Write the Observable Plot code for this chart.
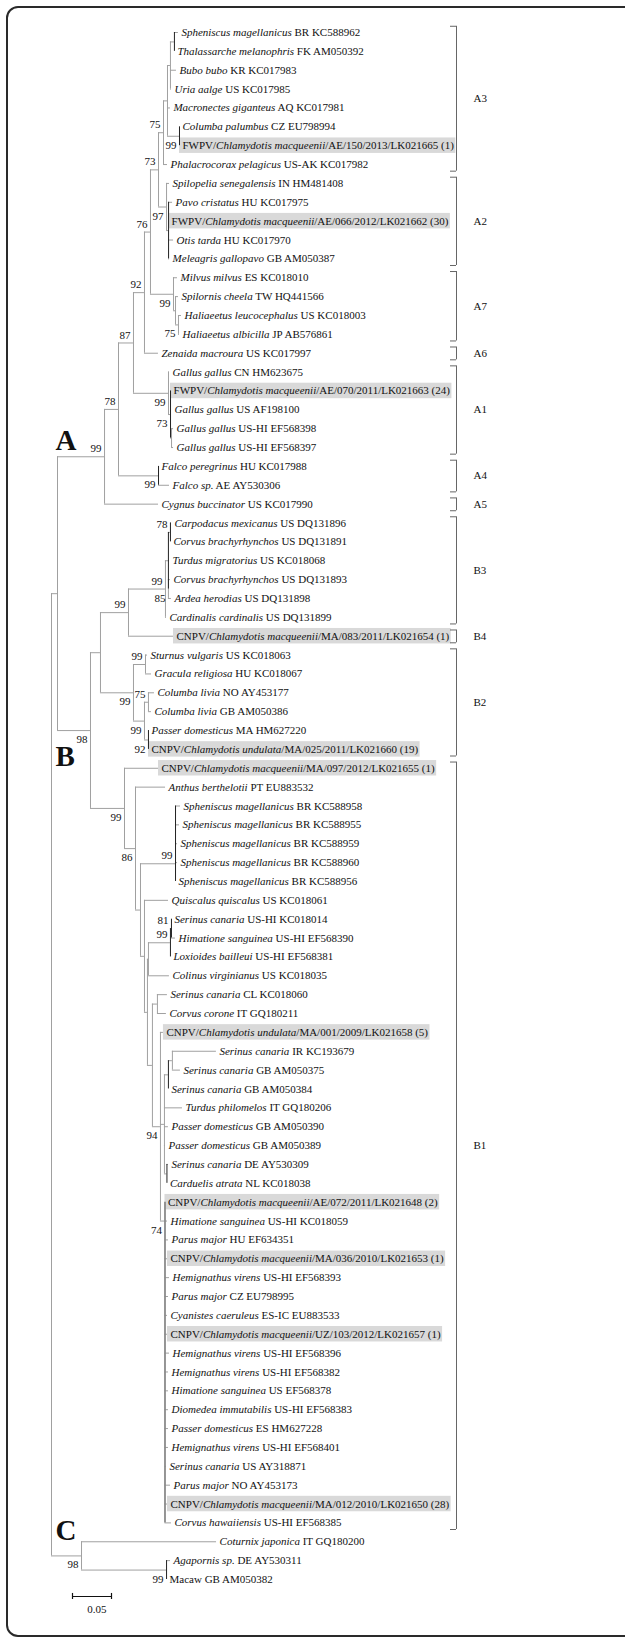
<!DOCTYPE html>
<html><head><meta charset="utf-8">
<script src="https://cdn.jsdelivr.net/npm/d3@7"></script>
<script src="https://cdn.jsdelivr.net/npm/@observablehq/plot@0.6"></script>
<style>
body{margin:0;background:#fff;overflow:hidden;}
#wrap{position:relative;width:625px;height:1638px;overflow:hidden;background:#fff;}
#frame{position:absolute;left:6px;top:6px;width:700px;height:1631px;border:2px solid #2a2a2a;border-radius:12px;box-sizing:border-box;pointer-events:none;}
</style></head><body><div id="wrap"><div id="chart"></div><div id="frame"></div></div>
<script>
// ---------- DATA ----------
// leaf labels: [roman prefix, italic part, roman suffix]
const leafNames = [
["", "Spheniscus magellanicus", " BR KC588962"],
["", "Thalassarche melanophris", " FK AM050392"],
["", "Bubo bubo", " KR KC017983"],
["", "Uria aalge", " US KC017985"],
["", "Macronectes giganteus", " AQ KC017981"],
["", "Columba palumbus", " CZ EU798994"],
["FWPV/", "Chlamydotis macqueenii", "/AE/150/2013/LK021665 (1)"],
["", "Phalacrocorax pelagicus", " US-AK KC017982"],
["", "Spilopelia senegalensis", " IN HM481408"],
["", "Pavo cristatus", " HU KC017975"],
["FWPV/", "Chlamydotis macqueenii", "/AE/066/2012/LK021662 (30)"],
["", "Otis tarda", " HU KC017970"],
["", "Meleagris gallopavo", " GB AM050387"],
["", "Milvus milvus", " ES KC018010"],
["", "Spilornis cheela", " TW HQ441566"],
["", "Haliaeetus leucocephalus", " US KC018003"],
["", "Haliaeetus albicilla", " JP AB576861"],
["", "Zenaida macroura", " US KC017997"],
["", "Gallus gallus", " CN HM623675"],
["FWPV/", "Chlamydotis macqueenii", "/AE/070/2011/LK021663 (24)"],
["", "Gallus gallus", " US AF198100"],
["", "Gallus gallus", " US-HI EF568398"],
["", "Gallus gallus", " US-HI EF568397"],
["", "Falco peregrinus", " HU KC017988"],
["", "Falco sp.", " AE AY530306"],
["", "Cygnus buccinator", " US KC017990"],
["", "Carpodacus mexicanus", " US DQ131896"],
["", "Corvus brachyrhynchos", " US DQ131891"],
["", "Turdus migratorius", " US KC018068"],
["", "Corvus brachyrhynchos", " US DQ131893"],
["", "Ardea herodias", " US DQ131898"],
["", "Cardinalis cardinalis", " US DQ131899"],
["CNPV/", "Chlamydotis macqueenii", "/MA/083/2011/LK021654 (1)"],
["", "Sturnus vulgaris", " US KC018063"],
["", "Gracula religiosa", " HU KC018067"],
["", "Columba livia", " NO AY453177"],
["", "Columba livia", " GB AM050386"],
["", "Passer domesticus", " MA HM627220"],
["CNPV/", "Chlamydotis undulata", "/MA/025/2011/LK021660 (19)"],
["CNPV/", "Chlamydotis macqueenii", "/MA/097/2012/LK021655 (1)"],
["", "Anthus berthelotii", " PT EU883532"],
["", "Spheniscus magellanicus", " BR KC588958"],
["", "Spheniscus magellanicus", " BR KC588955"],
["", "Spheniscus magellanicus", " BR KC588959"],
["", "Spheniscus magellanicus", " BR KC588960"],
["", "Spheniscus magellanicus", " BR KC588956"],
["", "Quiscalus quiscalus", " US KC018061"],
["", "Serinus canaria", " US-HI KC018014"],
["", "Himatione sanguinea", " US-HI EF568390"],
["", "Loxioides bailleui", " US-HI EF568381"],
["", "Colinus virginianus", " US KC018035"],
["", "Serinus canaria", " CL KC018060"],
["", "Corvus corone", " IT GQ180211"],
["CNPV/", "Chlamydotis undulata", "/MA/001/2009/LK021658 (5)"],
["", "Serinus canaria", " IR KC193679"],
["", "Serinus canaria", " GB AM050375"],
["", "Serinus canaria", " GB AM050384"],
["", "Turdus philomelos", " IT GQ180206"],
["", "Passer domesticus", " GB AM050390"],
["", "Passer domesticus", " GB AM050389"],
["", "Serinus canaria", " DE AY530309"],
["", "Carduelis atrata", " NL KC018038"],
["CNPV/", "Chlamydotis macqueenii", "/AE/072/2011/LK021648 (2)"],
["", "Himatione sanguinea", " US-HI KC018059"],
["", "Parus major", " HU EF634351"],
["CNPV/", "Chlamydotis macqueenii", "/MA/036/2010/LK021653 (1)"],
["", "Hemignathus virens", " US-HI EF568393"],
["", "Parus major", " CZ EU798995"],
["", "Cyanistes caeruleus", " ES-IC EU883533"],
["CNPV/", "Chlamydotis macqueenii", "/UZ/103/2012/LK021657 (1)"],
["", "Hemignathus virens", " US-HI EF568396"],
["", "Hemignathus virens", " US-HI EF568382"],
["", "Himatione sanguinea", " US EF568378"],
["", "Diomedea immutabilis", " US-HI EF568383"],
["", "Passer domesticus", " ES HM627228"],
["", "Hemignathus virens", " US-HI EF568401"],
["", "Serinus canaria", " US AY318871"],
["", "Parus major", " NO AY453173"],
["CNPV/", "Chlamydotis macqueenii", "/MA/012/2010/LK021650 (28)"],
["", "Corvus hawaiiensis", " US-HI EF568385"],
["", "Coturnix japonica", " IT GQ180200"],
["", "Agapornis sp.", " DE AY530311"],
["Macaw GB AM050382", "", ""]
];

// parent node of each leaf
const leafParent = [
"st","st","a3d","a3d","a3c","colf","colf","A3","A2","a2s",
"a2s","a2s","a2s","A7","a7b","hal","hal","n92","A1","a1s",
"a1s","a1h","a1h","A4","A4","A","n78b","n78b","n1","n85",
"n85","B3","B34","sg","sg","n75","n75","n92b","n92b","B1",
"n86","sph","sph","sph","sph","sph","n3","n81","n81","n99c",
"n148","n6","n6","n94","nIR","nIR","nIRgb","nSer","nSer","nSer",
"nDE","nDE","n74","n74","n74","n74","n74","n74","n74","n74",
"n74","n74","n74","n74","n74","n74","n74","n74","n74","n74",
"C","agm","agm"
];

// terminal branch lengths (substitutions/site)
const leafLength = [
0.0051,0,0.0077,0.0013,0.0038,0,0,0.0051,0.0038,0.0051,
0,0.0064,0.0013,0.0051,0.0038,0.0038,0.0013,0.0179,0.0013,0,
0.0013,0.0026,0.0026,0,0.0141,0.0692,0.0013,0,0.0013,0.0026,
0.0038,0.0013,0.0577,0.0026,0.0077,0.0077,0.0038,0,0,0.0436,
0.0385,0.0064,0.0051,0.0026,0.0026,0,0.0308,0,0.0051,0,
0.0269,0.0128,0.0115,0.0038,0.0564,0.0103,0,0.0231,0.0051,0.0013,
0.0019,0,0,0.0032,0.0045,0.0032,0.0058,0.0045,0.0032,0.0032,
0.0058,0.0045,0.0045,0.0045,0.0045,0.0045,0.0019,0.0071,0.0032,0.0083,
0.1731,0.0051,0
];

// internal nodes: [id, parent, branch length, bootstrap]
const nodes = [
["R",null,0,null],["AB","R",0.0077,null],["A","AB",0.0603,99],["B","AB",0.0423,98],["C","R",0.0385,98],
["n78","A",0.0179,78],["n87","n78",0.0192,87],["A4","n78",0.0513,99],["n92","n87",0.0141,92],["A1","n87",0.0449,99],
["n76","n92",0.0077,76],["n73","n76",0.0103,73],["A7","n76",0.0295,99],["A3","n73",0.0064,75],["A2","n73",0.0103,97],
["a3c","A3",0.0051,null],["a3d","a3c",0.0038,null],["st","a3d",0.0051,null],["colf","a3c",0.0154,99],["a2s","A2",0.0026,null],
["a7b","A7",0.0026,null],["hal","a7b",0.0038,75],["a1s","A1",0.0026,73],["a1h","a1s",0.0013,null],
["nBB","B",0.0128,null],["B1","B",0.0436,99],["B34","nBB",0.0359,99],["B2","nBB",0.0423,99],["B3","B34",0.0474,99],
["n1","B3",0.0038,null],["n78b","n1",0.0026,78],["n85","n1",0,85],["sg","B2",0.0154,99],["n99b","B2",0.0141,99],
["n75","n99b",0.0051,75],["n92b","n99b",0.0051,92],["n86","B1",0.0141,86],["n2","n86",0.0064,null],["sph","n2",0.0449,99],
["n3","n2",0.0051,null],["n4","n3",0.0038,null],["n148","n4",0.0013,null],["n99c","n148",0.0282,99],["n81","n99c",0.0013,81],
["n7","n4",0.0064,null],["n6","n7",0.0064,null],["n94","n7",0.0103,94],["nSer","n94",0.0051,null],["nIRgb","nSer",0.0051,null],
["nIR","nIRgb",0.0051,null],["nDE","nSer",0.0032,null],["n74","n94",0.0058,74],["agm","C",0.1090,99]
];

// clade brackets: [label, first leaf, last leaf]
const clades = [
["A3",0,7],["A2",8,12],["A7",13,16],["A6",17,17],["A1",18,22],["A4",23,24],["A5",25,25],
["B3",26,31],["B4",32,32],["B2",33,38],["B1",39,79]
];
const groupLetters = ["A","B","C"];
const scaleBarValue = 0.05;

// ---------- LAYOUT ----------
const W = 625, H = 1638;
const xMax = 0.7359, xLeft = 51, ppu = (W - xLeft) / xMax;
const FONT = "'Liberation Serif','Times New Roman',serif";

const map = new Map();
nodes.forEach(([id, parent, len, bs]) => map.set(id, {id, parent, len, bs, kids: []}));
leafNames.forEach((nm, i) => map.set("L" + i, {id: "L" + i, leaf: true, i, parent: leafParent[i], len: leafLength[i], kids: []}));
for (const o of map.values()) if (o.parent) map.get(o.parent).kids.push(o);
const root = map.get("R");
(function depth(o, d) { o.x = d; o.kids.forEach(k => depth(k, d + k.len)); })(root, 0);
// zero-length polytomies drawn as ladders (MEGA style)
const ladderTop = new Set(["n74"]), ladderBottom = new Set(["sph"]);
(function setY(o) {
  if (o.leaf) { o.y = o.i; return o.y; }
  const ys = o.kids.map(setY).sort((a, b) => a - b);
  o.y0 = ys[0]; o.y1 = ys[ys.length - 1];
  if (ladderTop.has(o.id)) { let y = o.y1; for (let k = ys.length - 2; k >= 0; k--) y = (ys[k] + y) / 2; o.y = y; }
  else if (ladderBottom.has(o.id)) { let y = o.y0; for (let k = 1; k < ys.length; k++) y = (y + ys[k]) / 2; o.y = y; }
  else o.y = (o.y0 + o.y1) / 2;
  return o.y;
})(root);

const all = [...map.values()];
const hsegs = all.filter(o => o.parent && o.len > 0).map(o => ({y: o.y, x1: map.get(o.parent).x, x2: o.x}));
const vsegs = all.filter(o => !o.leaf).map(o => ({x: o.x, y1: o.y0, y2: o.y1,
  kind: o.kids.length > 8 ? "core" : o.kids.some(k => k.len === 0) ? "dark" : "light"}));
const bs = all.filter(o => o.bs != null).map(o => {
  const sib = map.get(o.parent).kids.map(k => k.y);
  return {x: o.x, y: o.y, text: String(o.bs), lower: o.y === Math.max(...sib)};
});

const leaves = leafNames.map((nm, i) => {
  const o = map.get("L" + i);
  return {i, x: o.x, y: o.y, full: nm.join(""), hl: /^(FWPV|CNPV)\//.test(nm[0])};
});
const partsByFull = new Map(leafNames.map(nm => [nm.join(""), nm]));
// text widths for highlight boxes
const ctx = document.createElement("canvas").getContext("2d");
function tw(nm) {
  let w = 0;
  ctx.font = `11px ${FONT}`; w += ctx.measureText(nm[0]).width + ctx.measureText(nm[2]).width;
  ctx.font = `italic 11px ${FONT}`; w += ctx.measureText(nm[1]).width;
  return w;
}
const boxes = leaves.filter(d => d.hl).map(d => ({x1: d.x, x2: d.x + (3 + tw(leafNames[d.i]) + 2) / ppu, y1: d.y - 0.41, y2: d.y + 0.41}));

const bracketX = (456 - xLeft) / ppu, hookX = (450 - xLeft) / ppu, cladeTextX = (473 - xLeft) / ppu;
const br = clades.map(([n, a, b]) => ({n, y1: a - 0.33, y2: b + 0.35, ym: (a + b) / 2}));
const hooks = br.flatMap(d => [{y: d.y1}, {y: d.y2}]);

const letterOffset = {A: -16, B: 26, C: -25};
const letters = groupLetters.map(g => ({g, y: map.get(g).y}));

const sbStart = (72 - xLeft) / ppu, sbY = 82.9;
const sb = [{x1: sbStart, x2: sbStart + scaleBarValue}];

const svg = Plot.plot({
  width: W, height: H,
  x: {domain: [0, xMax], range: [xLeft, W], axis: null},
  y: {domain: [0, 82], range: [32, 1579], axis: null},
  style: {fontFamily: FONT, fontSize: "11px", background: "transparent", color: "#111"},
  marks: [
    Plot.rect(boxes, {x1: "x1", x2: "x2", y1: "y1", y2: "y2", fill: "#d9d9d9"}),
    Plot.ruleY(hsegs, {y: "y", x1: "x1", x2: "x2", stroke: "#a0a0a0", strokeWidth: 1}),
    Plot.ruleX(vsegs.filter(d => d.kind === "light"), {x: "x", y1: "y1", y2: "y2", stroke: "#a0a0a0", strokeWidth: 1}),
    Plot.ruleX(vsegs.filter(d => d.kind === "core"), {x: "x", y1: "y1", y2: "y2", stroke: "#8a8a8a", strokeWidth: 1.8}),
    Plot.ruleX(vsegs.filter(d => d.kind === "dark"), {x: "x", y1: "y1", y2: "y2", stroke: "#222", strokeWidth: 1}),
    Plot.text(leaves, {x: "x", y: "y", text: "full", dx: 3, textAnchor: "start", fill: "#111", fontSize: 11}),
    Plot.text(bs.filter(d => !d.lower), {x: "x", y: "y", text: "text", dx: -3, dy: -8, textAnchor: "end", fill: "#111", fontSize: 11}),
    Plot.text(bs.filter(d => d.lower), {x: "x", y: "y", text: "text", dx: -3, dy: 9, textAnchor: "end", fill: "#111", fontSize: 11}),
    Plot.ruleX(br, {x: bracketX, y1: "y1", y2: "y2", stroke: "#666", strokeWidth: 1}),
    Plot.ruleY(hooks, {y: "y", x1: hookX, x2: bracketX, stroke: "#666", strokeWidth: 1}),
    Plot.text(br, {x: cladeTextX, y: "ym", text: "n", textAnchor: "start", fill: "#111", fontSize: 11}),
    ...letters.map(d => Plot.text([d], {x: 0, y: "y", text: "g", dx: 4, dy: letterOffset[d.g], textAnchor: "start", fontSize: 29, fontWeight: "bold", fill: "#111"})),
    Plot.ruleY(sb, {y: sbY, x1: "x1", x2: "x2", stroke: "#111", strokeWidth: 1.2}),
    Plot.ruleX([sbStart, sbStart + scaleBarValue], {x: d => d, y1: sbY - 0.16, y2: sbY + 0.16, stroke: "#111", strokeWidth: 1.2}),
    Plot.text([scaleBarValue], {x: sbStart + scaleBarValue / 2, y: sbY + 0.7, text: d => String(d), dx: 5, fill: "#111", fontSize: 11})
  ]
});

// rich text: italic species names inside leaf labels
d3.select(svg).selectAll("text").each(function() {
  const nm = partsByFull.get(this.textContent);
  if (!nm) return;
  const t = d3.select(this);
  t.text(null);
  if (nm[0]) t.append("tspan").text(nm[0]);
  if (nm[1]) t.append("tspan").attr("font-style", "italic").text(nm[1]);
  if (nm[2]) t.append("tspan").text(nm[2]);
});
document.getElementById("chart").appendChild(svg);
</script>
</body></html>
